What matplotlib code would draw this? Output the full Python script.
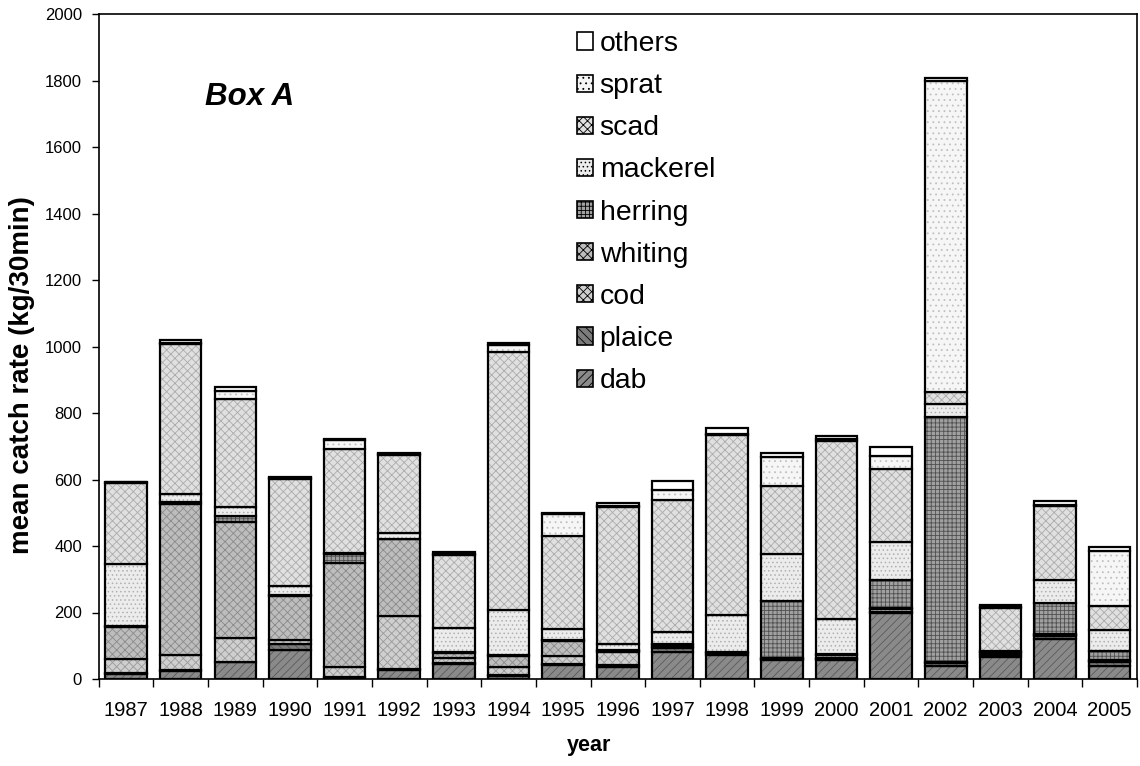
import matplotlib
matplotlib.use("Agg")
import numpy as np
import matplotlib.pyplot as plt
from matplotlib.patches import Patch

plt.rcParams['font.family'] = ['Liberation Sans', 'DejaVu Sans']
plt.rcParams['hatch.linewidth'] = 0.6

years = [str(y) for y in range(1987, 2006)]
dab      = [15, 25, 50, 87, 3, 27, 45, 10, 43, 37, 80, 72, 57, 57, 198, 40, 65, 119, 40]
plaice   = [3, 2, 2, 17, 3, 2, 3, 3, 2, 4, 12, 5, 4, 4, 5, 9, 8, 10, 12]
cod      = [41, 45, 70, 13, 31, 160, 16, 24, 25, 39, 5, 1, 1, 2, 8, 1, 4, 3, 2]
whiting  = [98, 453, 351, 133, 313, 231, 13, 32, 44, 3, 5, 1, 1, 8, 2, 1, 3, 2, 2]
herring  = [2, 6, 18, 3, 26, 2, 3, 3, 2, 5, 2, 1, 172, 3, 85, 736, 3, 96, 27]
mackerel = [186, 25, 27, 28, 2, 17, 74, 136, 34, 18, 37, 113, 140, 105, 113, 39, 2, 69, 63]
scad     = [244, 451, 324, 320, 313, 236, 219, 775, 280, 410, 396, 542, 205, 538, 221, 36, 128, 221, 75]
sprat    = [2, 3, 24, 4, 28, 2, 4, 22, 66, 3, 30, 3, 89, 5, 40, 935, 3, 3, 163]
others   = [2, 10, 13, 2, 3, 3, 5, 5, 3, 10, 28, 17, 12, 10, 27, 10, 8, 12, 13]

species = ['dab', 'plaice', 'cod', 'whiting', 'herring', 'mackerel', 'scad', 'sprat', 'others']
series = [dab, plaice, cod, whiting, herring, mackerel, scad, sprat, others]
# face colour, hatch, hatch colour
styles = [('#8a8a8a', '////', '#5a5a5a'),
          ('#7c7c7c', '\\\\\\\\', '#555555'),
          ('#cfcfcf', 'xxxx', '#9a9a9a'),
          ('#bdbdbd', 'xxxx', '#8a8a8a'),
          ('#a0a0a0', '++++', '#505050'),
          ('#ececec', '....', '#b0b0b0'),
          ('#e0e0e0', 'xxxx', '#ababab'),
          ('#f6f6f6', '...', '#c0c0c0'),
          ('#ffffff', None, '#ffffff')]

fig = plt.figure(figsize=(11.4, 7.66), dpi=100)
ax = fig.add_axes([98.7/1140, 1-679/766, (1137-98.7)/1140, (679-14)/766])

x = np.arange(len(years))
w = 0.76
bottom = np.zeros(len(years))
handles = []
for name, vals, (fc, hatch, hc) in zip(species, series, styles):
    vals = np.array(vals, dtype=float)
    # hatch drawn in grey first, black outlines on top
    ax.bar(x, vals, w, bottom=bottom, color=fc, hatch=hatch, edgecolor=hc, linewidth=0)
    ax.bar(x, vals, w, bottom=bottom, fill=False, edgecolor='black', linewidth=1.6)
    bottom += vals
    handles.append(Patch(facecolor=fc, hatch=hatch, edgecolor='black', linewidth=1.2, label=name))

ax.set_xlim(-0.5, len(years)-0.5)
ax.set_ylim(0, 2000)
ax.set_yticks(np.arange(0, 2001, 200))
ax.tick_params(axis='y', direction='out', length=5, width=1, labelsize=12, pad=7)
ax.set_xticks(x)
ax.set_xticklabels(years)
ax.set_xticks(np.arange(-0.5, len(years), 1), minor=True)
ax.tick_params(axis='x', which='major', length=0, labelsize=14.5, pad=16)
ax.tick_params(axis='x', which='minor', direction='out', length=6, width=1)
for s in ax.spines.values():
    s.set_linewidth(1.2)

fig.text(22/1140, 1-375/766, 'mean catch rate (kg/30min)', rotation=90,
         ha='center', va='center', fontsize=20, fontweight='bold')
fig.text(589/1140, 1-746/766, 'year', ha='center', va='center',
         fontsize=15.5, fontweight='bold')
fig.text(250/1140, 1-97/766, 'Box A', ha='center', va='center',
         fontsize=22.5, fontweight='bold', fontstyle='italic')

fig.legend(handles=handles[::-1], loc='upper left',
           bbox_to_anchor=(577/1140, 1-31/766), frameon=False, fontsize=20.4,
           handlelength=0.55, handleheight=0.55, handletextpad=0.25,
           labelspacing=0.57, borderpad=0, borderaxespad=0)

fig.savefig('out.png', dpi=100)
